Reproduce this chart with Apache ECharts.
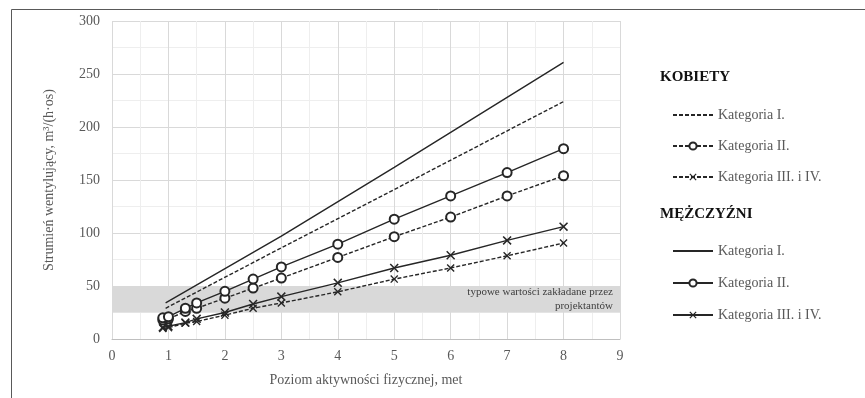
<!DOCTYPE html>
<html>
<head>
<meta charset="utf-8">
<script src="https://cdn.jsdelivr.net/npm/echarts@6/dist/echarts.min.js"></script>
<style>
  html, body { margin: 0; padding: 0; background: #fff; }
  #main { width: 865px; height: 398px; }
</style>
</head>
<body>
<div id="main"></div>
<script>
// poziom aktywności (met) - punkty pomiarowe
var metPts = [0.9, 1.0, 1.3, 1.5, 2, 2.5, 3, 4, 5, 6, 7, 8];
// kategoria I bez znaczników - linia prosta
var metLine = [0.95, 3, 5, 8];

// KOBIETY
var kobI = [29, 86, 141, 224];
var kobII = [18, 19, 26, 29, 38.5, 48, 57.5, 77, 96.5, 115, 135, 154];
var kobIII = [10, 10.7, 15, 16.5, 22.5, 29, 34, 44.5, 56.5, 67, 78.5, 90.5];

// MĘŻCZYŹNI
var mezI = [34, 97, 162, 261];
var mezII = [20, 21, 29, 34, 45, 56.5, 68, 89.5, 113, 135, 157, 179.5];
var mezIII = [11, 12, 15.5, 19, 25, 33, 40, 53, 67, 79, 93, 106];

// pasmo typowych wartości
var bandRange = [25, 50];
var bandText = 'typowe wartości zakładane przez\nprojektantów';

var serif = 'Liberation Serif';
var lineCol = '#262626';
var xMark = 'path://M0,1.2L1.2,0L5,3.8L8.8,0L10,1.2L6.2,5L10,8.8L8.8,10L5,6.2L1.2,10L0,8.8L3.8,5Z';

function pairs(xs, ys) {
    return ys.map(function (v, i) { return [xs[i], v]; });
}

function ser(name, xs, ys, dashed, symbol, size) {
    var s = {
        name: name,
        type: 'line',
        data: pairs(xs, ys),
        symbol: symbol || 'circle',
        symbolSize: size || 9,
        showSymbol: !!symbol,
        lineStyle: { color: lineCol, width: 1.4, type: dashed ? [4, 2] : 'solid' },
        itemStyle: symbol === 'emptyCircle'
            ? { color: lineCol, borderColor: lineCol, borderWidth: 1.3 }
            : { color: lineCol },
        animation: false,
        z: 3
    };
    if (!symbol) s.itemStyle = { color: lineCol, opacity: 0 };
    return s;
}

var myChart = echarts.init(document.getElementById('main'));

var series = [
    ser('K1', metLine, kobI, true),
    ser('K2', metPts, kobII, true, 'emptyCircle', 9),
    ser('K3', metPts, kobIII, true, xMark, 8),
    ser('M1', metLine, mezI, false),
    ser('M2', metPts, mezII, false, 'emptyCircle', 9),
    ser('M3', metPts, mezIII, false, xMark, 9)
];
// pasmo szare
series.push({
    name: 'band',
    type: 'line',
    data: [],
    markArea: {
        silent: true,
        itemStyle: { color: '#d9d9d9' },
        label: {
            show: true,
            position: 'insideRight',
            formatter: bandText,
            align: 'right',
            fontFamily: serif,
            fontSize: 11,
            lineHeight: 14,
            color: '#404040',
            offset: [-2, 0]
        },
        data: [[{ yAxis: bandRange[0], xAxis: 0 }, { yAxis: bandRange[1], xAxis: 9 }]]
    },
    z: 1
});

var legendText = { fontFamily: serif, fontSize: 14, color: '#595959' };
var names = { K1: 'Kategoria I.', K2: 'Kategoria II.', K3: 'Kategoria III. i IV.',
              M1: 'Kategoria I.', M2: 'Kategoria II.', M3: 'Kategoria III. i IV.' };

var option = {
    backgroundColor: '#fff',
    animation: false,
    grid: { left: 112, right: 245, top: 21, bottom: 59 },
    xAxis: {
        type: 'value',
        min: 0, max: 9, interval: 1,
        name: 'Poziom aktywności fizycznej, met',
        nameLocation: 'middle',
        nameGap: 34,
        nameTextStyle: { fontFamily: serif, fontSize: 14, color: '#595959' },
        axisLine: { show: true, lineStyle: { color: '#bfbfbf' } },
        axisTick: { show: false },
        axisLabel: { fontFamily: serif, fontSize: 14, color: '#595959', margin: 10 },
        splitLine: { show: true, lineStyle: { color: '#d9d9d9', width: 1 } },
        minorTick: { show: false, splitNumber: 2 },
        minorSplitLine: { show: true, lineStyle: { color: '#eeeeee', width: 1 } }
    },
    yAxis: {
        type: 'value',
        min: 0, max: 300, interval: 50,
        name: 'Strumień wentylujący, m³/(h·os)',
        nameLocation: 'middle',
        nameGap: 56,
        nameTextStyle: { fontFamily: serif, fontSize: 14, color: '#595959' },
        axisLine: { show: false },
        axisTick: { show: false },
        axisLabel: { fontFamily: serif, fontSize: 14, color: '#595959', margin: 12 },
        splitLine: { show: true, lineStyle: { color: '#d9d9d9', width: 1 } },
        minorTick: { show: false, splitNumber: 2 },
        minorSplitLine: { show: true, lineStyle: { color: '#eeeeee', width: 1 } }
    },
    legend: [{
        data: ['K1', 'K2', 'K3'],
        orient: 'vertical',
        left: 667, top: 103,
        itemWidth: 40, itemHeight: 9, itemGap: 17,
        formatter: function (n) { return names[n]; },
        textStyle: legendText,
        selectedMode: false
    }, {
        data: ['M1', 'M2', 'M3'],
        orient: 'vertical',
        left: 667, top: 239,
        itemWidth: 40, itemHeight: 9, itemGap: 18,
        formatter: function (n) { return names[n]; },
        textStyle: legendText,
        selectedMode: false
    }],
    graphic: [{
        type: 'polyline',
        shape: { points: [[11.5, 420], [11.5, 9.5], [880, 9.5]] },
        style: { fill: 'none', stroke: '#595959', lineWidth: 1 },
        silent: true
    }, {
        type: 'text', left: 660, top: 70,
        style: { text: 'KOBIETY', font: 'bold 15px "Liberation Serif"', fill: '#111' }
    }, {
        type: 'text', left: 660, top: 207,
        style: { text: 'MĘŻCZYŹNI', font: 'bold 15px "Liberation Serif"', fill: '#111' }
    }],
    series: series
};

myChart.setOption(option);
</script>
</body>
</html>
